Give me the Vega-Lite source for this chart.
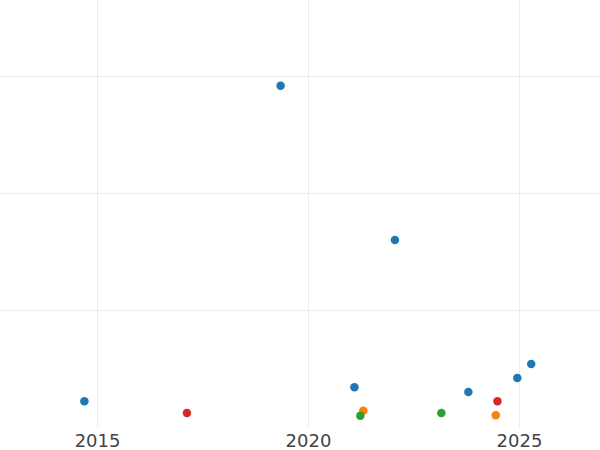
{
  "$schema": "https://vega.github.io/schema/vega-lite/v6.json",
  "width": 600,
  "height": 450,
  "padding": 0,
  "autosize": {"type": "fit", "contains": "padding"},
  "background": "white",
  "config": {"view": {"stroke": null}},
  "data": {
    "values": [
      {"year": 2014.70, "value": 2.20, "group": "A"},
      {"year": 2019.35, "value": 29.17, "group": "A"},
      {"year": 2022.06, "value": 15.98, "group": "A"},
      {"year": 2021.10, "value": 3.39, "group": "A"},
      {"year": 2023.80, "value": 2.99, "group": "A"},
      {"year": 2024.96, "value": 4.19, "group": "A"},
      {"year": 2025.29, "value": 5.38, "group": "A"},
      {"year": 2021.31, "value": 1.39, "group": "B"},
      {"year": 2024.45, "value": 1.00, "group": "B"},
      {"year": 2021.24, "value": 0.97, "group": "C"},
      {"year": 2023.16, "value": 1.20, "group": "C"},
      {"year": 2017.13, "value": 1.20, "group": "D"},
      {"year": 2024.49, "value": 2.20, "group": "D"}
    ]
  },
  "mark": {"type": "circle", "size": 72, "opacity": 1},
  "encoding": {
    "x": {
      "field": "year", "type": "quantitative",
      "scale": {"domain": [2012.7, 2026.92], "nice": false, "zero": false},
      "axis": {"title": null, "values": [2015, 2020, 2025], "format": "d", "domain": false, "ticks": false,
               "labelFontSize": 18, "labelColor": "#444444", "labelFont": "DejaVu Sans", "labelPadding": 5,
               "gridColor": "#ebebeb", "labelFlush": false}
    },
    "y": {
      "field": "value", "type": "quantitative",
      "scale": {"domain": [0, 36.5], "nice": false},
      "axis": {"title": null, "values": [10, 20, 30], "labels": false, "domain": false, "ticks": false, "gridColor": "#ebebeb"}
    },
    "color": {
      "field": "group", "type": "nominal",
      "scale": {"domain": ["A", "B", "C", "D"], "range": ["#1f77b4", "#ff7f0e", "#2ca02c", "#d62728"]},
      "legend": null
    }
  }
}
